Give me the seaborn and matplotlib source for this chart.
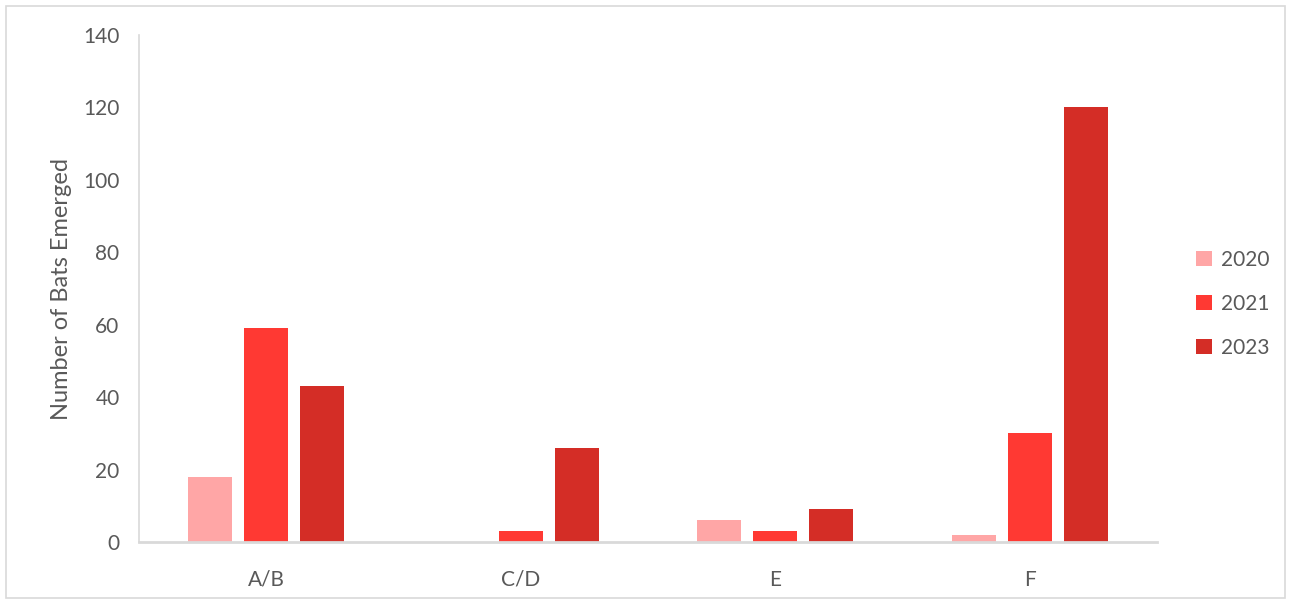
import matplotlib
matplotlib.use("Agg")
import matplotlib.pyplot as plt
import seaborn as sns
import pandas as pd
from matplotlib.patches import Rectangle

sites = ["A/B", "C/D", "E", "F"]
years = ["2020", "2021", "2023"]
bats_2020 = [18, 0, 6, 2]
bats_2021 = [59, 3, 3, 30]
bats_2023 = [43, 26, 9, 120]
y_ticks = [0, 20, 40, 60, 80, 100, 120, 140]

palette = {"2020": "#FFA6A6", "2021": "#FF3933", "2023": "#D42D26"}

df = pd.DataFrame({
    "Site": sites * 3,
    "Year": [y for y in years for _ in sites],
    "Bats": bats_2020 + bats_2021 + bats_2023,
})

sns.set_style("white")
plt.rcParams["font.family"] = ["Lato", "DejaVu Sans"]
text_color = "#595959"

fig = plt.figure(figsize=(12.91, 6.02), dpi=100)
ax = fig.add_axes([139 / 1291, 1 - 542 / 602, (1157 - 139) / 1291, (542 - 35) / 602])

sns.barplot(data=df, x="Site", y="Bats", hue="Year", hue_order=years,
            palette=palette, width=0.66, gap=0.21, ax=ax,
            edgecolor="none", saturation=1, legend=True)

ax.set_xlim(-0.5, 3.5)
ax.set_ylim(0, 140)
ax.set_yticks(y_ticks)
ax.tick_params(axis="both", length=0, colors=text_color, labelsize=15)
ax.tick_params(axis="y", pad=14)
ax.tick_params(axis="x", pad=20)
ax.set_xlabel("")
ax.set_ylabel("Number of Bats Emerged", fontsize=17, color=text_color, labelpad=8)

for side in ["top", "right"]:
    ax.spines[side].set_visible(False)
ax.spines["left"].set_color("#D9D9D9")
ax.spines["left"].set_linewidth(1.2)
ax.spines["bottom"].set_color("#D9D9D9")
ax.spines["bottom"].set_linewidth(2)

leg = ax.legend(loc="center left", bbox_to_anchor=(1.02, 0.47), frameon=False,
                fontsize=15, handlelength=0.75, handleheight=0.75, handletextpad=0.45,
                labelspacing=1.15)
for t in leg.get_texts():
    t.set_color(text_color)

fig.patches.append(Rectangle((6 / 1291, 4 / 602), 1 - 12 / 1291, 1 - 10 / 602,
                             transform=fig.transFigure, fill=False,
                             edgecolor="#D9D9D9", linewidth=1.2))

fig.savefig("out.png", dpi=100, facecolor="white")
